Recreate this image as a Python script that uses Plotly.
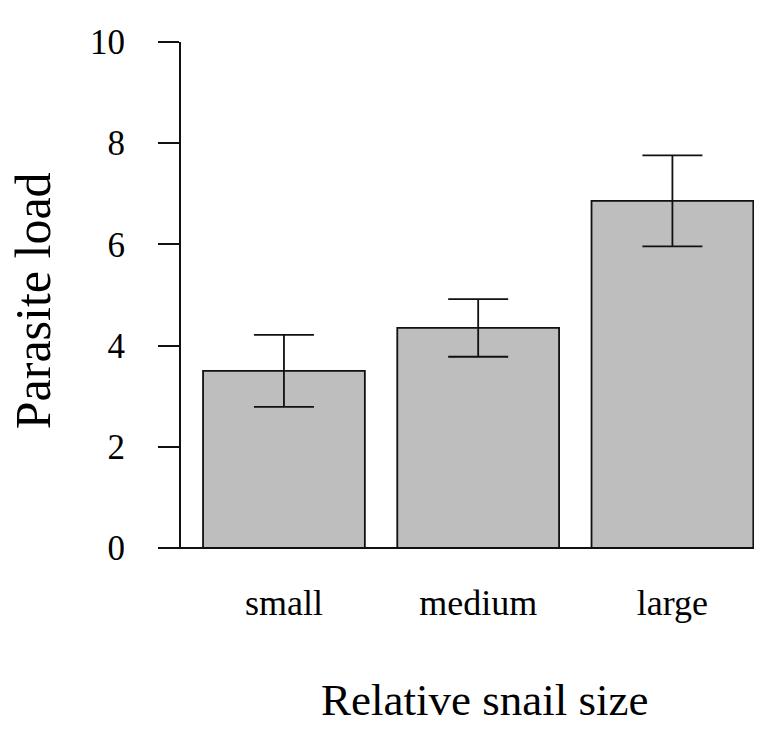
import plotly.graph_objects as go

categories = ["small", "medium", "large"]
means = [3.50, 4.35, 6.86]
errors = [0.71, 0.57, 0.90]
y_ticks = [0, 2, 4, 6, 8, 10]

FONT = "Liberation Serif, Times New Roman, serif"
LINE = "#111111"

fig = go.Figure()
fig.add_trace(go.Bar(
    x=categories, y=means,
    width=0.833,
    marker=dict(color="#bebebe", line=dict(color=LINE, width=1.8)),
    error_y=dict(type="data", array=errors, visible=True,
                 color=LINE, thickness=1.8, width=30),
    showlegend=False,
))

fig.update_layout(
    width=764, height=731,
    margin=dict(l=181, r=10, t=42, b=183),
    paper_bgcolor="white", plot_bgcolor="white",
    font=dict(family=FONT, color="black"),
    bargap=0.167,
    xaxis=dict(
        range=[-0.53, 2.42], showgrid=False, zeroline=False, showline=False,
        ticks="", tickfont=dict(size=36, family=FONT, color="black"),
        ticklabelstandoff=30,
    ),
    yaxis=dict(
        range=[0, 10], tickvals=y_ticks, showgrid=False, zeroline=False,
        showline=True, linecolor=LINE, linewidth=1.8,
        ticks="outside", ticklen=21, tickwidth=1.8, tickcolor=LINE,
        tickfont=dict(size=35, family=FONT, color="black"),
        ticklabelstandoff=26,
    ),
    shapes=[dict(type="line", xref="paper", yref="paper",
                 x0=-0.0384, x1=1.0, y0=0, y1=0,
                 line=dict(color=LINE, width=1.8))],
    annotations=[
        dict(text="Relative snail size", xref="paper", yref="paper",
             x=0.5305, y=-0.30, xanchor="center", yanchor="middle",
             showarrow=False, font=dict(size=45, family=FONT, color="black")),
        dict(text="Parasite load", xref="paper", yref="paper",
             x=-0.258, y=0.488, xanchor="center", yanchor="middle",
             textangle=-90, showarrow=False,
             font=dict(size=50, family=FONT, color="black")),
    ],
)

fig.write_html("out.html")
